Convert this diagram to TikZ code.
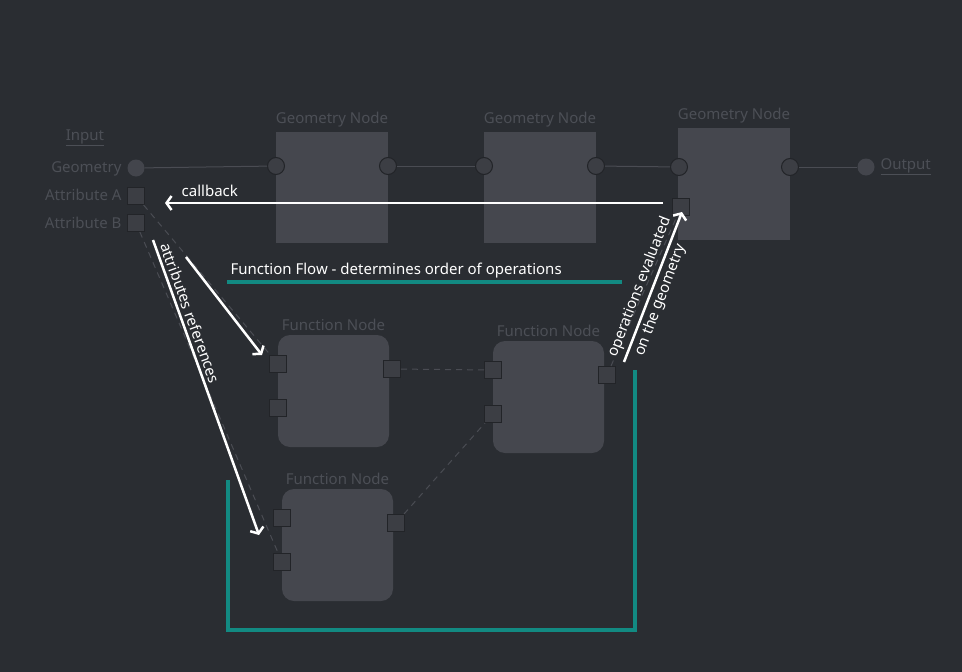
\documentclass[tikz,border=0pt]{standalone}
\usepackage{fontspec}
\setmainfont{Noto Sans}
\usepackage{xcolor}
\usetikzlibrary{arrows.meta, positioning}

\definecolor{bgdark}{HTML}{2A2D32}
\definecolor{boxgrey}{HTML}{45474E}
\definecolor{sockgrey}{HTML}{3C3E44}
\definecolor{sockedge}{HTML}{222428}
\definecolor{iogrey}{HTML}{43454C}
\definecolor{faint}{HTML}{4C4F56}
\definecolor{wiregrey}{HTML}{4A4C53}
\definecolor{flowteal}{HTML}{128A82}

\begin{document}
\begin{tikzpicture}[
  x=1pt, y=-1pt,
  font=\fontsize{15}{18}\selectfont,
  geonode/.style={rectangle, fill=boxgrey, minimum width=112pt,
                  minimum height=111pt, inner sep=0pt},
  funcnode/.style={rectangle, rounded corners=12pt, fill=boxgrey,
                   minimum width=111pt, minimum height=112pt, inner sep=0pt},
  title/.style={text=faint},
  csock/.style={circle, fill=sockgrey, draw=sockedge, line width=1pt,
                minimum size=17pt, inner sep=0pt},
  iosock/.style={circle, fill=iogrey, minimum size=17pt, inner sep=0pt},
  ssock/.style={rectangle, fill=sockgrey, draw=sockedge, line width=1pt,
                minimum size=17pt, inner sep=0pt},
  wire/.style={draw=wiregrey, line width=1pt},
  dwire/.style={wire, dash pattern=on 6pt off 5pt},
  arrow/.style={draw=white, line width=2.5pt,
                -{Straight Barb[length=5pt, width=14pt]}},
  note/.style={text=white},
  flow/.style={draw=flowteal, line width=4pt}
]
  \useasboundingbox[fill=bgdark] (0,0) rectangle (962,672);

  % geometry chain
  \node[geonode, label={[title, label distance=1pt]above:Geometry Node}] (gn1) at (332,187.5) {};
  \node[geonode, label={[title, label distance=1pt]above:Geometry Node}] (gn2) at (540,187.5) {};
  \node[geonode, minimum height=112pt,
        label={[title, label distance=1pt]above:Geometry Node}] (gn3) at (734,184) {};
  \node[csock] (gn1in)  at (276,166) {};
  \node[csock] (gn1out) at (388,166) {};
  \node[csock] (gn2in)  at (484,166) {};
  \node[csock] (gn2out) at (596,166) {};
  \node[csock] (gn3in)  at (679,167) {};
  \node[csock] (gn3out) at (790,167) {};
  \node[ssock] (gn3fn)  at (681,207) {};

  % input / output
  \node[title, anchor=base] (inlbl) at (85,140) {\underline{Input}};
  \node[title, anchor=base east] (geolbl) at (125,172) {Geometry};
  \node[title, anchor=base east] (attalbl) at (125,200) {Attribute A};
  \node[title, anchor=base east] (attblbl) at (125,228) {Attribute B};
  \node[iosock] (geoin) at (136,168) {};
  \node[ssock] (atta) at (136,196) {};
  \node[ssock] (attb) at (136,223) {};
  \node[iosock] (outsock) at (866,167) {};
  \node[title, anchor=base west] (outlbl) at (877,169) {\underline{Output}};

  % function nodes
  \node[funcnode, label={[title, label distance=1pt]above:Function Node}] (fn1) at (333.5,391) {};
  \node[funcnode, label={[title, label distance=1pt]above:Function Node}] (fn2) at (548.5,397) {};
  \node[funcnode, label={[title, label distance=1pt]above:Function Node}] (fn3) at (337.5,545) {};
  \node[ssock] (fn1a)   at (278,364) {};
  \node[ssock] (fn1b)   at (278,408) {};
  \node[ssock] (fn1out) at (392,369) {};
  \node[ssock] (fn2a)   at (493,370) {};
  \node[ssock] (fn2b)   at (493,414) {};
  \node[ssock] (fn2out) at (607,375) {};
  \node[ssock] (fn3a)   at (282,518) {};
  \node[ssock] (fn3b)   at (282,562) {};
  \node[ssock] (fn3out) at (396,523) {};

  % wires
  \draw[wire] (geoin) -- (gn1in);
  \draw[wire] (gn1out) -- (gn2in);
  \draw[wire] (gn2out) -- (gn3in);
  \draw[wire] (gn3out) -- (outsock);
  \draw[dwire] (atta) -- (fn1a);
  \draw[dwire] (attb) -- (fn3b);
  \draw[dwire] (fn1out) -- (fn2a);
  \draw[dwire] (fn3out) -- (fn2b);
  \draw[dwire] (fn2out) -- (gn3fn);

  % function flow
  \node[note, anchor=base west] (flowlbl) at (227,274) {Function Flow - determines order of operations};
  \draw[flow] (227,282) -- (622,282);
  \draw[flow] (228,480) |- (635,630) -- (635,370);

  % annotations
  \coordinate (cbtail) at (663,203);
  \coordinate (cbhead) at (165,203);
  \coordinate (refatail) at (186,257);
  \coordinate (refahead) at (262,355);
  \coordinate (refbtail) at (153,240);
  \coordinate (refbhead) at (259,535);
  \coordinate (evaltail) at (624,362);
  \coordinate (evalhead) at (682,212);
  \draw[arrow] (cbtail) -- node[note, above=2pt, pos=0.91] {callback} (cbhead);
  \draw[arrow] (refatail) -- (refahead);
  \draw[arrow] (refbtail) -- node[note, sloped, above, pos=0.26] {attributes references} (refbhead);
  \draw[arrow] (evaltail) -- node[note, sloped, above, pos=0.47] {operations evaluated}
                             node[note, sloped, below, pos=0.44] {on the geometry} (evalhead);
\end{tikzpicture}
\end{document}
